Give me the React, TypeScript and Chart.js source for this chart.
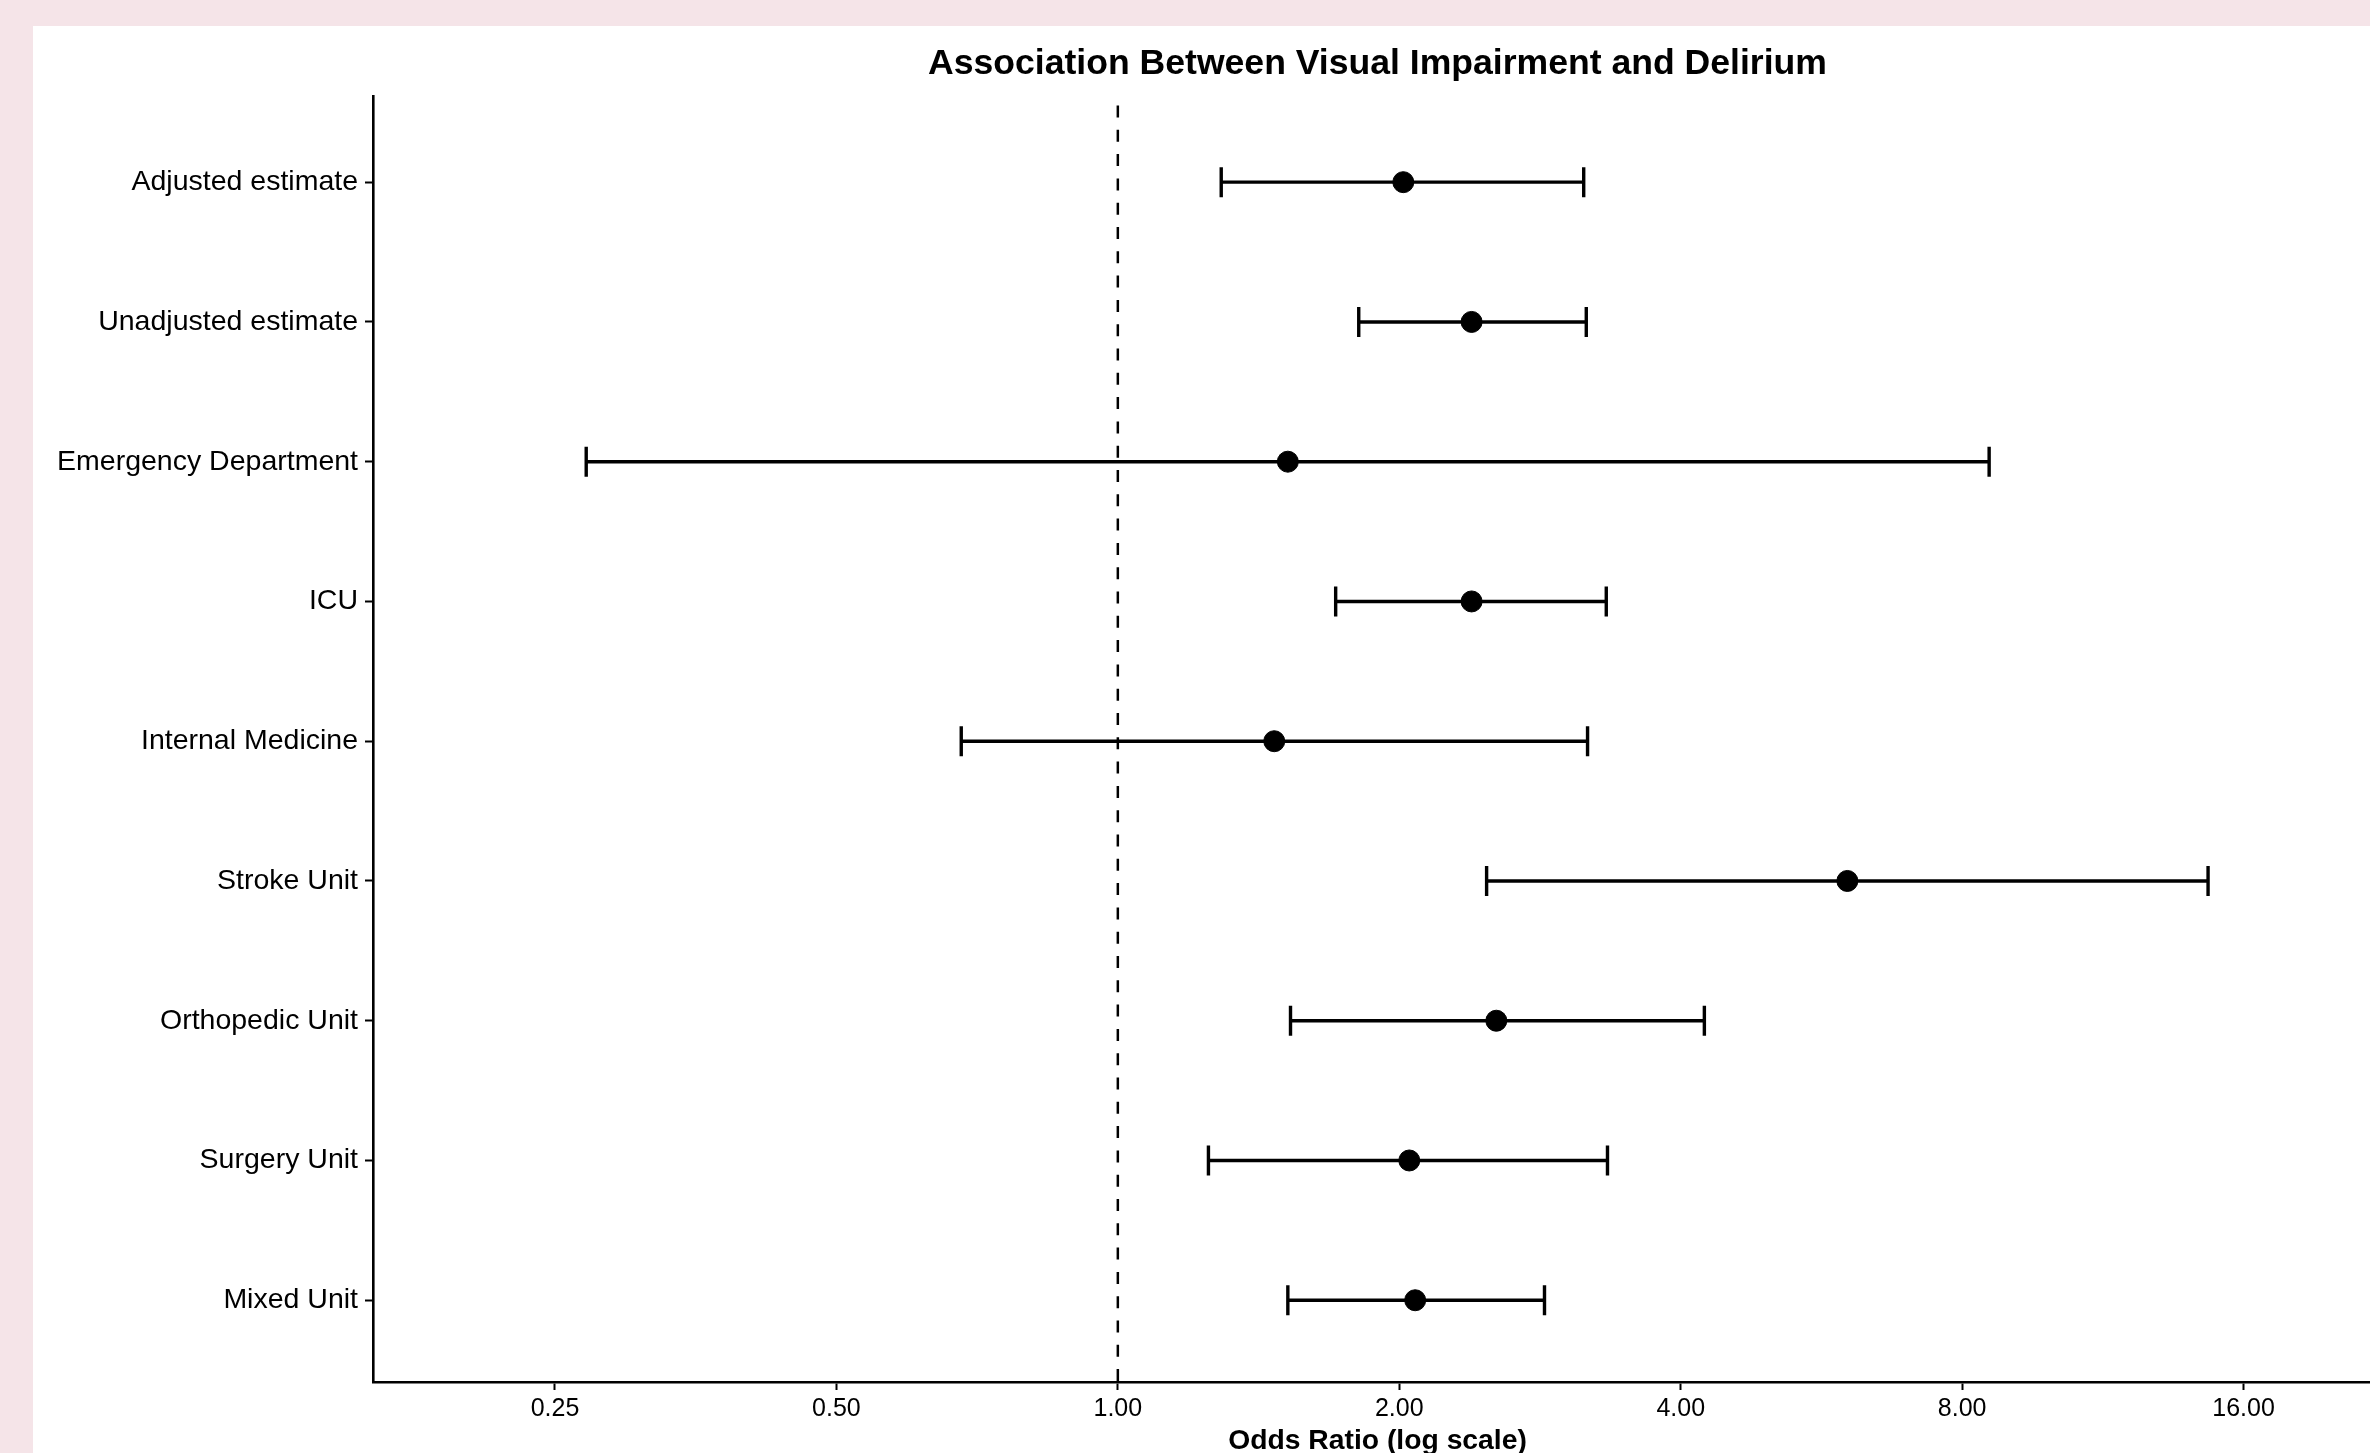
import React, { useEffect, useRef } from "react";
import { Chart, registerables } from "chart.js";

Chart.register(...registerables);

const categories = [
  "Adjusted estimate",
  "Unadjusted estimate",
  "Emergency Department",
  "ICU",
  "Internal Medicine",
  "Stroke Unit",
  "Orthopedic Unit",
  "Surgery Unit",
  "Mixed Unit",
];
const oddsRatio = [2.02, 2.39, 1.52, 2.39, 1.47, 6.03, 2.54, 2.05, 2.08];
const ciLower = [1.29, 1.81, 0.27, 1.71, 0.68, 2.48, 1.53, 1.25, 1.52];
const ciUpper = [3.15, 3.17, 8.55, 3.33, 3.18, 14.66, 4.24, 3.34, 2.86];
const xTicks = [0.25, 0.5, 1, 2, 4, 8, 16];
const referenceValue = 1;

const FONT = "'Liberation Sans', Arial, Helvetica, sans-serif";
const CANVAS_W = 2400;
const CANVAS_H = 1460;

export default function App() {
  const ref = useRef<HTMLCanvasElement | null>(null);

  useEffect(() => {
    if (!ref.current) return;
    const n = categories.length;
    const yMin = -0.615;
    const yMax = n - 1 + 0.585;

    const pointsDs: any = {
      type: "scatter",
      label: "OR",
      data: oddsRatio.map((v, i) => ({ x: v, y: i })),
      pointRadius: 10.5,
      pointHoverRadius: 10.5,
      pointBackgroundColor: "#000",
      pointBorderColor: "#000",
      pointBorderWidth: 1,
      showLine: false,
    };

    const ciDs: any[] = categories.map((c, i) => ({
      type: "scatter",
      label: c,
      data: [
        { x: ciLower[i], y: i },
        { x: ciUpper[i], y: i },
      ],
      showLine: true,
      borderColor: "#000",
      borderWidth: 3.4,
      pointStyle: "line",
      pointRotation: 90,
      pointRadius: 15,
      pointHoverRadius: 15,
      pointBorderColor: "#000",
      pointBorderWidth: 3.4,
      pointBackgroundColor: "#000",
    }));

    const refDs: any = {
      type: "scatter",
      label: "ref",
      data: [
        { x: referenceValue, y: yMin },
        { x: referenceValue, y: yMax },
      ],
      showLine: true,
      borderColor: "#000",
      borderWidth: 2.5,
      borderDash: [12, 12.3],
      borderDashOffset: 15,
      pointRadius: 0,
      pointHoverRadius: 0,
    };

    const chart = new Chart(ref.current, {
      type: "scatter",
      data: { datasets: [pointsDs, ...ciDs, refDs] },
      options: {
        animation: false,
        responsive: false,
        devicePixelRatio: 1,
        events: [],
        layout: { padding: { left: 0, right: 51, top: 0, bottom: 0 } },
        plugins: {
          legend: { display: false },
          tooltip: { enabled: false },
          title: {
            display: true,
            text: "Association Between Visual Impairment and Delirium",
            color: "#000",
            fullSize: false,
            font: { family: FONT, size: 35.6, weight: "bold" },
            padding: { top: 16.5, bottom: 11 },
          },
        },
        scales: {
          x: {
            type: "logarithmic",
            position: "bottom",
            min: 0.1597,
            max: 22.5,
            afterBuildTicks: (scale: any) => {
              scale.ticks = xTicks.map((v) => ({ value: v }));
            },
            afterFit: (scale: any) => {
              scale.height = 104;
            },
            grid: {
              display: true,
              drawOnChartArea: false,
              drawTicks: true,
              tickLength: 8,
              tickWidth: 2,
              tickColor: "#000",
            },
            border: { display: true, color: "#000", width: 2.6 },
            ticks: {
              autoSkip: false,
              maxRotation: 0,
              color: "#000",
              padding: 4,
              font: { family: FONT, size: 25 },
              callback: (v: any) => Number(v).toFixed(2),
            },
            title: {
              display: true,
              text: "Odds Ratio (log scale)",
              color: "#000",
              font: { family: FONT, size: 28.3, weight: "bold" },
              padding: { top: 0, bottom: 28 },
            },
          },
          y: {
            type: "linear",
            reverse: true,
            min: yMin,
            max: yMax,
            afterBuildTicks: (scale: any) => {
              scale.ticks = categories.map((_, i) => ({ value: i }));
            },
            afterFit: (scale: any) => {
              scale.width = 340;
            },
            grid: {
              display: true,
              drawOnChartArea: false,
              drawTicks: true,
              tickLength: 8,
              tickWidth: 2,
              tickColor: "#000",
            },
            border: { display: true, color: "#000", width: 2.6 },
            ticks: {
              autoSkip: false,
              color: "#000",
              padding: 7,
              font: { family: FONT, size: 28.5 },
              callback: (v: any) => categories[Math.round(Number(v))] ?? "",
            },
          },
        },
      },
    });

    return () => chart.destroy();
  }, []);

  return (
    <div
      style={{
        position: "fixed",
        left: 0,
        top: 0,
        width: 2370,
        height: 1453,
        overflow: "hidden",
        background: "#f5e4e8",
      }}
    >
      <div
        style={{
          position: "absolute",
          left: 33,
          top: 26,
          width: CANVAS_W,
          height: CANVAS_H,
          background: "#ffffff",
        }}
      >
        <canvas
          ref={ref}
          width={CANVAS_W}
          height={CANVAS_H}
          style={{ width: CANVAS_W, height: CANVAS_H, display: "block" }}
        />
      </div>
    </div>
  );
}
